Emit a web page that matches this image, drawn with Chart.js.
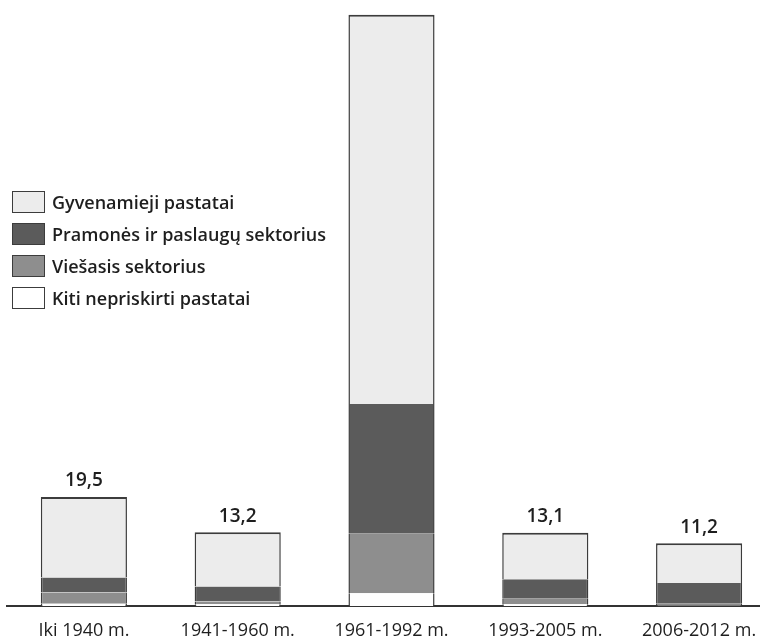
<!DOCTYPE html>
<html lang="lt">
<head>
<meta charset="utf-8">
<script src="https://cdn.jsdelivr.net/npm/chart.js@4/dist/chart.umd.min.js"></script>
<style>
  html, body { margin: 0; padding: 0; background: #fff; overflow: hidden; }
  #wrap { position: absolute; left: 0; top: 0; width: 776px; height: 643px; }
  #legend { position: absolute; left: 12px; top: 186px; font-family: "Open Sans", sans-serif;
            font-size: 18px; font-weight: 600; color: #1e1e1e; }
  #legend div { display: flex; align-items: center; height: 32px; }
  #legend span.box { display: inline-block; width: 31px; height: 20px; border: 1.5px solid #3c3c3c;
                     margin-right: 7px; box-sizing: content-box; }
</style>
</head>
<body>
<div id="wrap"><canvas id="chart"></canvas></div>
<div id="legend"></div>
<script>
// -----------------------------
// Data (million m2)
// -----------------------------
const periods = ['Iki 1940 m.', '1941-1960 m.', '1961-1992 m.', '1993-2005 m.', '2006-2012 m.'];
const gyvenamieji = [14.4, 9.7, 69.6, 8.3, 7.1];
const pramones    = [2.7, 2.7, 23.2, 3.5, 3.7];
const viesasis    = [2.0, 0.5, 10.6, 1.0, 0.3];
const kiti        = [0.4, 0.3, 2.3, 0.3, 0.1];
const totals      = [19.5, 13.2, null, 13.1, 11.2];   // middle bar has no label

const seriesNames = ['Gyvenamieji pastatai', 'Pramonės ir paslaugų sektorius', 'Viešasis sektorius', 'Kiti nepriskirti pastatai'];
const seriesColors = ['#ececec', '#5b5b5b', '#8e8e8e', '#ffffff'];
const edge = '#3c3c3c';

// -----------------------------
// Value labels above bars
// -----------------------------
const totalLabels = {
  id: 'totalLabels',
  afterDatasetsDraw(chart) {
    const { ctx, scales: { x, y } } = chart;
    ctx.save();
    ctx.font = '600 19px "Open Sans", sans-serif';
    ctx.fillStyle = '#1e1e1e';
    ctx.textAlign = 'center';
    ctx.textBaseline = 'middle';
    totals.forEach((t, i) => {
      if (t == null) return;
      ctx.fillText(t.toFixed(1).replace('.', ','), x.getPixelForValue(i), y.getPixelForValue(t) - 16);
    });
    ctx.restore();
  }
};

const sideBorder = { top: 0, left: 1.5, right: 1.5, bottom: 0 };
function ds(label, data, color, bw) {
  return {
    label, data,
    backgroundColor: color,
    borderColor: edge,
    borderWidth: bw,
    borderSkipped: false,
    barPercentage: 0.56,
    categoryPercentage: 1.0
  };
}

new Chart(document.getElementById('chart'), {
  type: 'bar',
  data: {
    labels: periods,
    datasets: [
      ds(seriesNames[3], kiti, seriesColors[3], sideBorder),
      ds(seriesNames[2], viesasis, seriesColors[2], sideBorder),
      ds(seriesNames[1], pramones, seriesColors[1], sideBorder),
      ds(seriesNames[0], gyvenamieji, seriesColors[0], { top: 2, left: 1.5, right: 1.5, bottom: 0 })
    ]
  },
  options: {
    responsive: true,
    maintainAspectRatio: false,
    animation: false,
    layout: { padding: { left: 7, right: 0, top: 13, bottom: 0 } },
    plugins: { legend: { display: false }, tooltip: { enabled: false } },
    scales: {
      x: {
        stacked: true,
        grid: { display: false, drawTicks: false },
        border: { display: true, color: '#333', width: 2 },
        ticks: { color: '#1e1e1e', padding: 14, font: { family: '"Open Sans", sans-serif', size: 18, weight: 500 } },
        afterFit(scale) { scale.height = 37; }
      },
      y: { stacked: true, display: false, min: 0, max: 106 }
    }
  },
  plugins: [totalLabels]
});

// -----------------------------
// Legend (HTML, top-down order)
// -----------------------------
const legendEl = document.getElementById('legend');
seriesNames.forEach((name, i) => {
  const row = document.createElement('div');
  const box = document.createElement('span');
  box.className = 'box';
  box.style.background = seriesColors[i];
  row.appendChild(box);
  row.appendChild(document.createTextNode(name));
  legendEl.appendChild(row);
});
</script>
</body>
</html>
